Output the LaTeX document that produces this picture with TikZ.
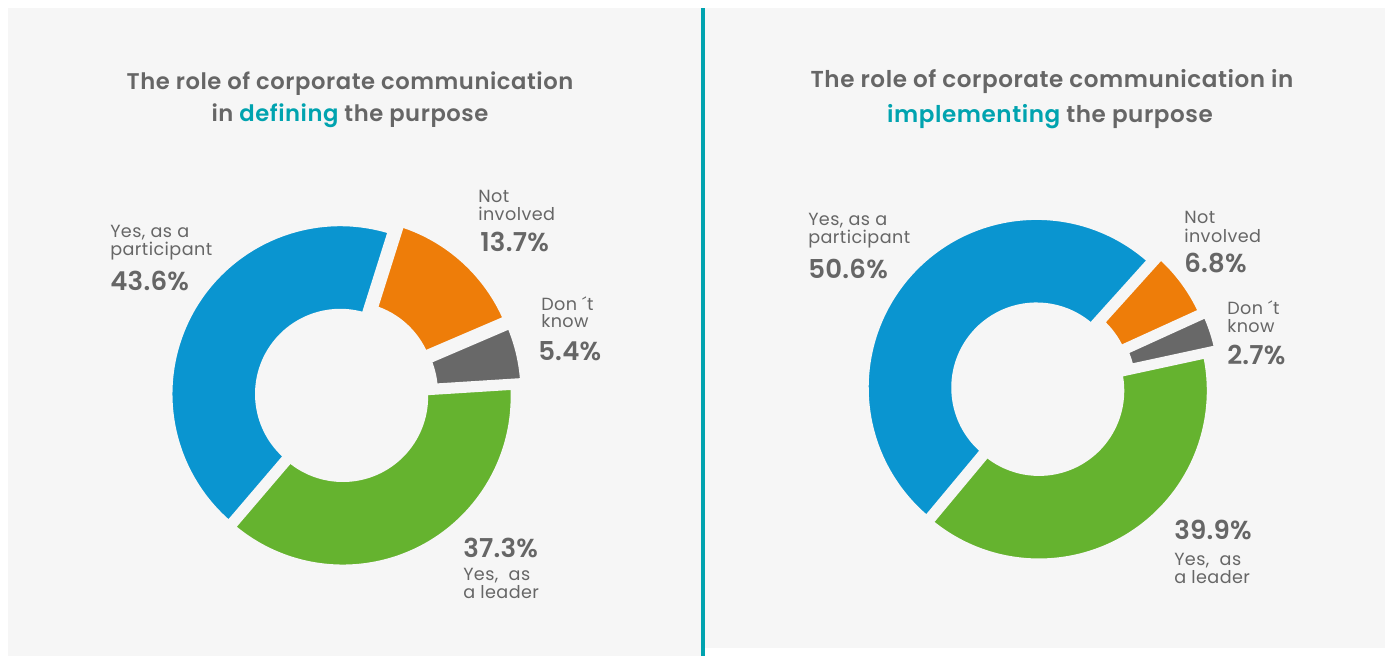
\documentclass[tikz,border=0pt]{standalone}
\usepackage{fontspec}
\setmainfont{Poppins}[LetterSpace=2.5]
\newfontfamily\titlefont{Poppins SemiBold}[LetterSpace=2.5]
\newfontfamily\pctfont{Poppins SemiBold}[LetterSpace=1]
\usetikzlibrary{calc}
\definecolor{bgc}{HTML}{F6F6F6}
\definecolor{teal}{HTML}{00A3AF}
\definecolor{txt}{HTML}{666666}
\definecolor{cblue}{HTML}{0A95D0}
\definecolor{corange}{HTML}{EE7D09}
\definecolor{cgrey}{HTML}{686868}
\definecolor{cgreen}{HTML}{65B32F}
\newcommand\donutslice[6]{%
  \pgfmathsetmacro\midang{(#3+#4)/2}%
  \begin{scope}[shift={(#1,#2)}]
  \begin{scope}[shift={(\midang:#5)}]
    \filldraw[fill=#6, draw=bgc, line width=5.6pt, line join=miter]
      (#3:171.5) arc[start angle=#3, end angle=#4, radius=171.5]
      -- (#4:81.5) arc[start angle=#4, end angle=#3, radius=81.5] -- cycle;
  \end{scope}
  \end{scope}}
\tikzset{
  ttl/.style={anchor=base, text=txt, font=\titlefont\fontsize{17}{20}\selectfont, inner sep=0pt},
  ttlr/.style={ttl, font=\titlefont\fontsize{17.3}{20}\selectfont},
  lbl/.style={anchor=base west, text=txt, font=\fontsize{13.2}{15}\selectfont, inner sep=0pt},
  pct/.style={anchor=base west, text=txt, font=\pctfont\fontsize{19.5}{22}\selectfont, inner sep=0pt},
}
\begin{document}
\begin{tikzpicture}[x=0.75pt, y=0.75pt]
\useasboundingbox (0,0) rectangle (1390,656);
\fill[white] (0,0) rectangle (1390,656);
\fill[bgc] (8,0) rectangle (701,648);
\fill[bgc] (705,8) rectangle (1385,648);
\fill[teal] (701,0) rectangle (705,648);

% titles
\node[ttl] (t1a) at (350,566) {The role of corporate communication};
\node[ttl] (t1b) at (350,534) {in \textcolor{teal}{defining} the purpose};
\node[ttlr] (t2a) at (1052,568) {The role of corporate communication in};
\node[ttlr] (t2b) at (1050,533) {\textcolor{teal}{implementing} the purpose};

% left donut, centre (342,261)
\donutslice{342}{261}{72.5}{229.5}{2}{cblue}
\donutslice{342}{261}{23.2}{72.5}{11}{corange}
\donutslice{342}{261}{3.6}{23.2}{11}{cgrey}
\donutslice{342}{261}{-130.5}{3.6}{2}{cgreen}

% right donut, centre (1038,267)
\donutslice{1038}{267}{48}{230.2}{2}{cblue}
\donutslice{1038}{267}{24.5}{48}{10}{corange}
\donutslice{1038}{267}{12.2}{24.5}{13}{cgrey}
\donutslice{1038}{267}{-129.8}{12.2}{2}{cgreen}

% left labels
\node[lbl] (l1a) at (110,418) {Yes, as a};
\node[lbl] (l1b) at (110,400) {participant};
\node[pct] (l1c) at (110,365) {43.6\%};
\node[lbl] (l2a) at (478,453) {Not};
\node[lbl] (l2b) at (478,435) {involved};
\node[pct] (l2c) at (480,404) {13.7\%};
\node[lbl] (l3a) at (541,345) {Don ´t};
\node[lbl] (l3b) at (541,328) {know};
\node[pct] (l3c) at (538,295) {5.4\%};
\node[pct] (l4c) at (463,98) {37.3\%};
\node[lbl] (l4a) at (463,75) {Yes,\ \ as};
\node[lbl] (l4b) at (463,57) {a leader};

% right labels
\node[lbl] (r1a) at (808,430) {Yes, as a};
\node[lbl] (r1b) at (808,412) {participant};
\node[pct] (r1c) at (808,377) {50.6\%};
\node[lbl] (r2a) at (1184,432) {Not};
\node[lbl] (r2b) at (1184,413) {involved};
\node[pct] (r2c) at (1184,383) {6.8\%};
\node[lbl] (r3a) at (1227,341) {Don ´t};
\node[lbl] (r3b) at (1227,323) {know};
\node[pct] (r3c) at (1227,291) {2.7\%};
\node[pct] (r4c) at (1174,116) {39.9\%};
\node[lbl] (r4a) at (1174,90) {Yes,\ \ as};
\node[lbl] (r4b) at (1174,72) {a leader};
\end{tikzpicture}
\end{document}
